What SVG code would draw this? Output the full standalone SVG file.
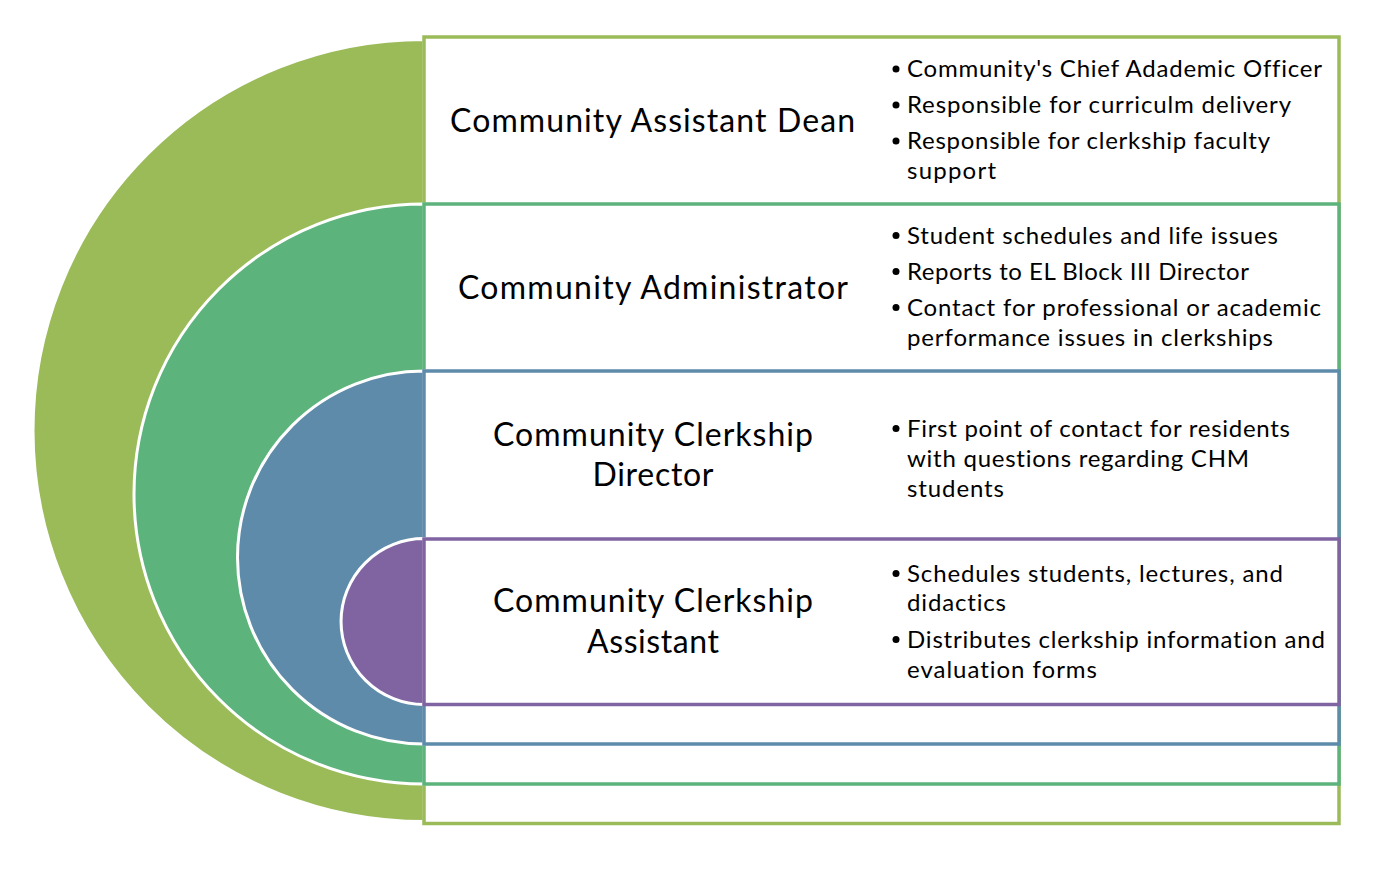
<svg xmlns="http://www.w3.org/2000/svg" width="1397" height="891" viewBox="0 0 1397 891">
  <style>
    .half { stroke: #ffffff; stroke-width: 3; }
    .box { fill: #ffffff; stroke-width: 3.5; }
    .title { font-family: Lato, "Open Sans", "Liberation Sans", sans-serif; font-size: 32px; fill: #000000; text-anchor: middle; font-variant-ligatures: none; }
    .item { font-family: Lato, "Open Sans", "Liberation Sans", sans-serif; font-size: 24px; fill: #000000; font-variant-ligatures: none; }
    .dot { fill: #000000; }
    .g1 { fill: #9bbb59; } .s1 { stroke: #9bbb59; }
    .g2 { fill: #5cb37c; } .s2 { stroke: #5cb37c; }
    .g3 { fill: #5e8baa; } .s3 { stroke: #5e8baa; }
    .g4 { fill: #8064a2; } .s4 { stroke: #8064a2; }
  </style>
  <rect width="1397" height="891" fill="#ffffff"/>

  <!-- Level 1: Community Assistant Dean -->
  <g id="assistant-dean">
    <path class="half g1" d="M424,39.5 A391,391 0 0 0 424,821.5 Z"/>
    <rect class="box s1" x="424" y="37" width="915" height="786.5"/>
    <text class="title" x="652.5" y="131.5" textLength="405">Community Assistant Dean</text>
    <circle class="dot" cx="896" cy="69" r="3.5"/>
    <text class="item" x="907" y="77" textLength="415">Community's Chief Adademic Officer</text>
    <circle class="dot" cx="896" cy="105" r="3.5"/>
    <text class="item" x="907" y="113" textLength="384">Responsible for curriculm delivery</text>
    <circle class="dot" cx="896" cy="141" r="3.5"/>
    <text class="item" x="907" y="149" textLength="363">Responsible for clerkship faculty</text>
    <text class="item" x="907" y="179" textLength="89">support</text>
  </g>

  <!-- Level 2: Community Administrator -->
  <g id="administrator">
    <path class="half g2" d="M424,204 A290,290 0 0 0 424,784 Z"/>
    <rect class="box s2" x="424" y="204" width="915" height="580"/>
    <text class="title" x="653" y="298.5" textLength="390">Community Administrator</text>
    <circle class="dot" cx="896" cy="235.5" r="3.5"/>
    <text class="item" x="907" y="243.5" textLength="371">Student schedules and life issues</text>
    <circle class="dot" cx="896" cy="271.5" r="3.5"/>
    <text class="item" x="907" y="279.5" textLength="342">Reports to EL Block III Director</text>
    <circle class="dot" cx="896" cy="307.5" r="3.5"/>
    <text class="item" x="907" y="315.5" textLength="414">Contact for professional or academic</text>
    <text class="item" x="907" y="346" textLength="366">performance issues in clerkships</text>
  </g>

  <!-- Level 3: Community Clerkship Director -->
  <g id="clerkship-director">
    <path class="half g3" d="M424,371 A186.5,186.5 0 0 0 424,744 Z"/>
    <rect class="box s3" x="424" y="371" width="915" height="373"/>
    <text class="title" x="653" y="445.5" textLength="320">Community Clerkship</text>
    <text class="title" x="653" y="485.5" textLength="121">Director</text>
    <circle class="dot" cx="896" cy="428.5" r="3.5"/>
    <text class="item" x="907" y="436.5" textLength="383">First point of contact for residents</text>
    <text class="item" x="907" y="466.5" textLength="342">with questions regarding CHM</text>
    <text class="item" x="907" y="497" textLength="97">students</text>
  </g>

  <!-- Level 4: Community Clerkship Assistant -->
  <g id="clerkship-assistant">
    <path class="half g4" d="M424,538.5 A83,83 0 0 0 424,704.5 Z"/>
    <rect class="box s4" x="424" y="539" width="915" height="165.5"/>
    <text class="title" x="653" y="611.5" textLength="320">Community Clerkship</text>
    <text class="title" x="653" y="652.5" textLength="132">Assistant</text>
    <circle class="dot" cx="896" cy="573.5" r="3.5"/>
    <text class="item" x="907" y="581.5" textLength="376">Schedules students, lectures, and</text>
    <text class="item" x="907" y="611" textLength="99">didactics</text>
    <circle class="dot" cx="896" cy="639.5" r="3.5"/>
    <text class="item" x="907" y="647.5" textLength="418">Distributes clerkship information and</text>
    <text class="item" x="907" y="678" textLength="190">evaluation forms</text>
  </g>

  <!-- no connectors in this layout -->
  <g id="connectors"/>
</svg>
